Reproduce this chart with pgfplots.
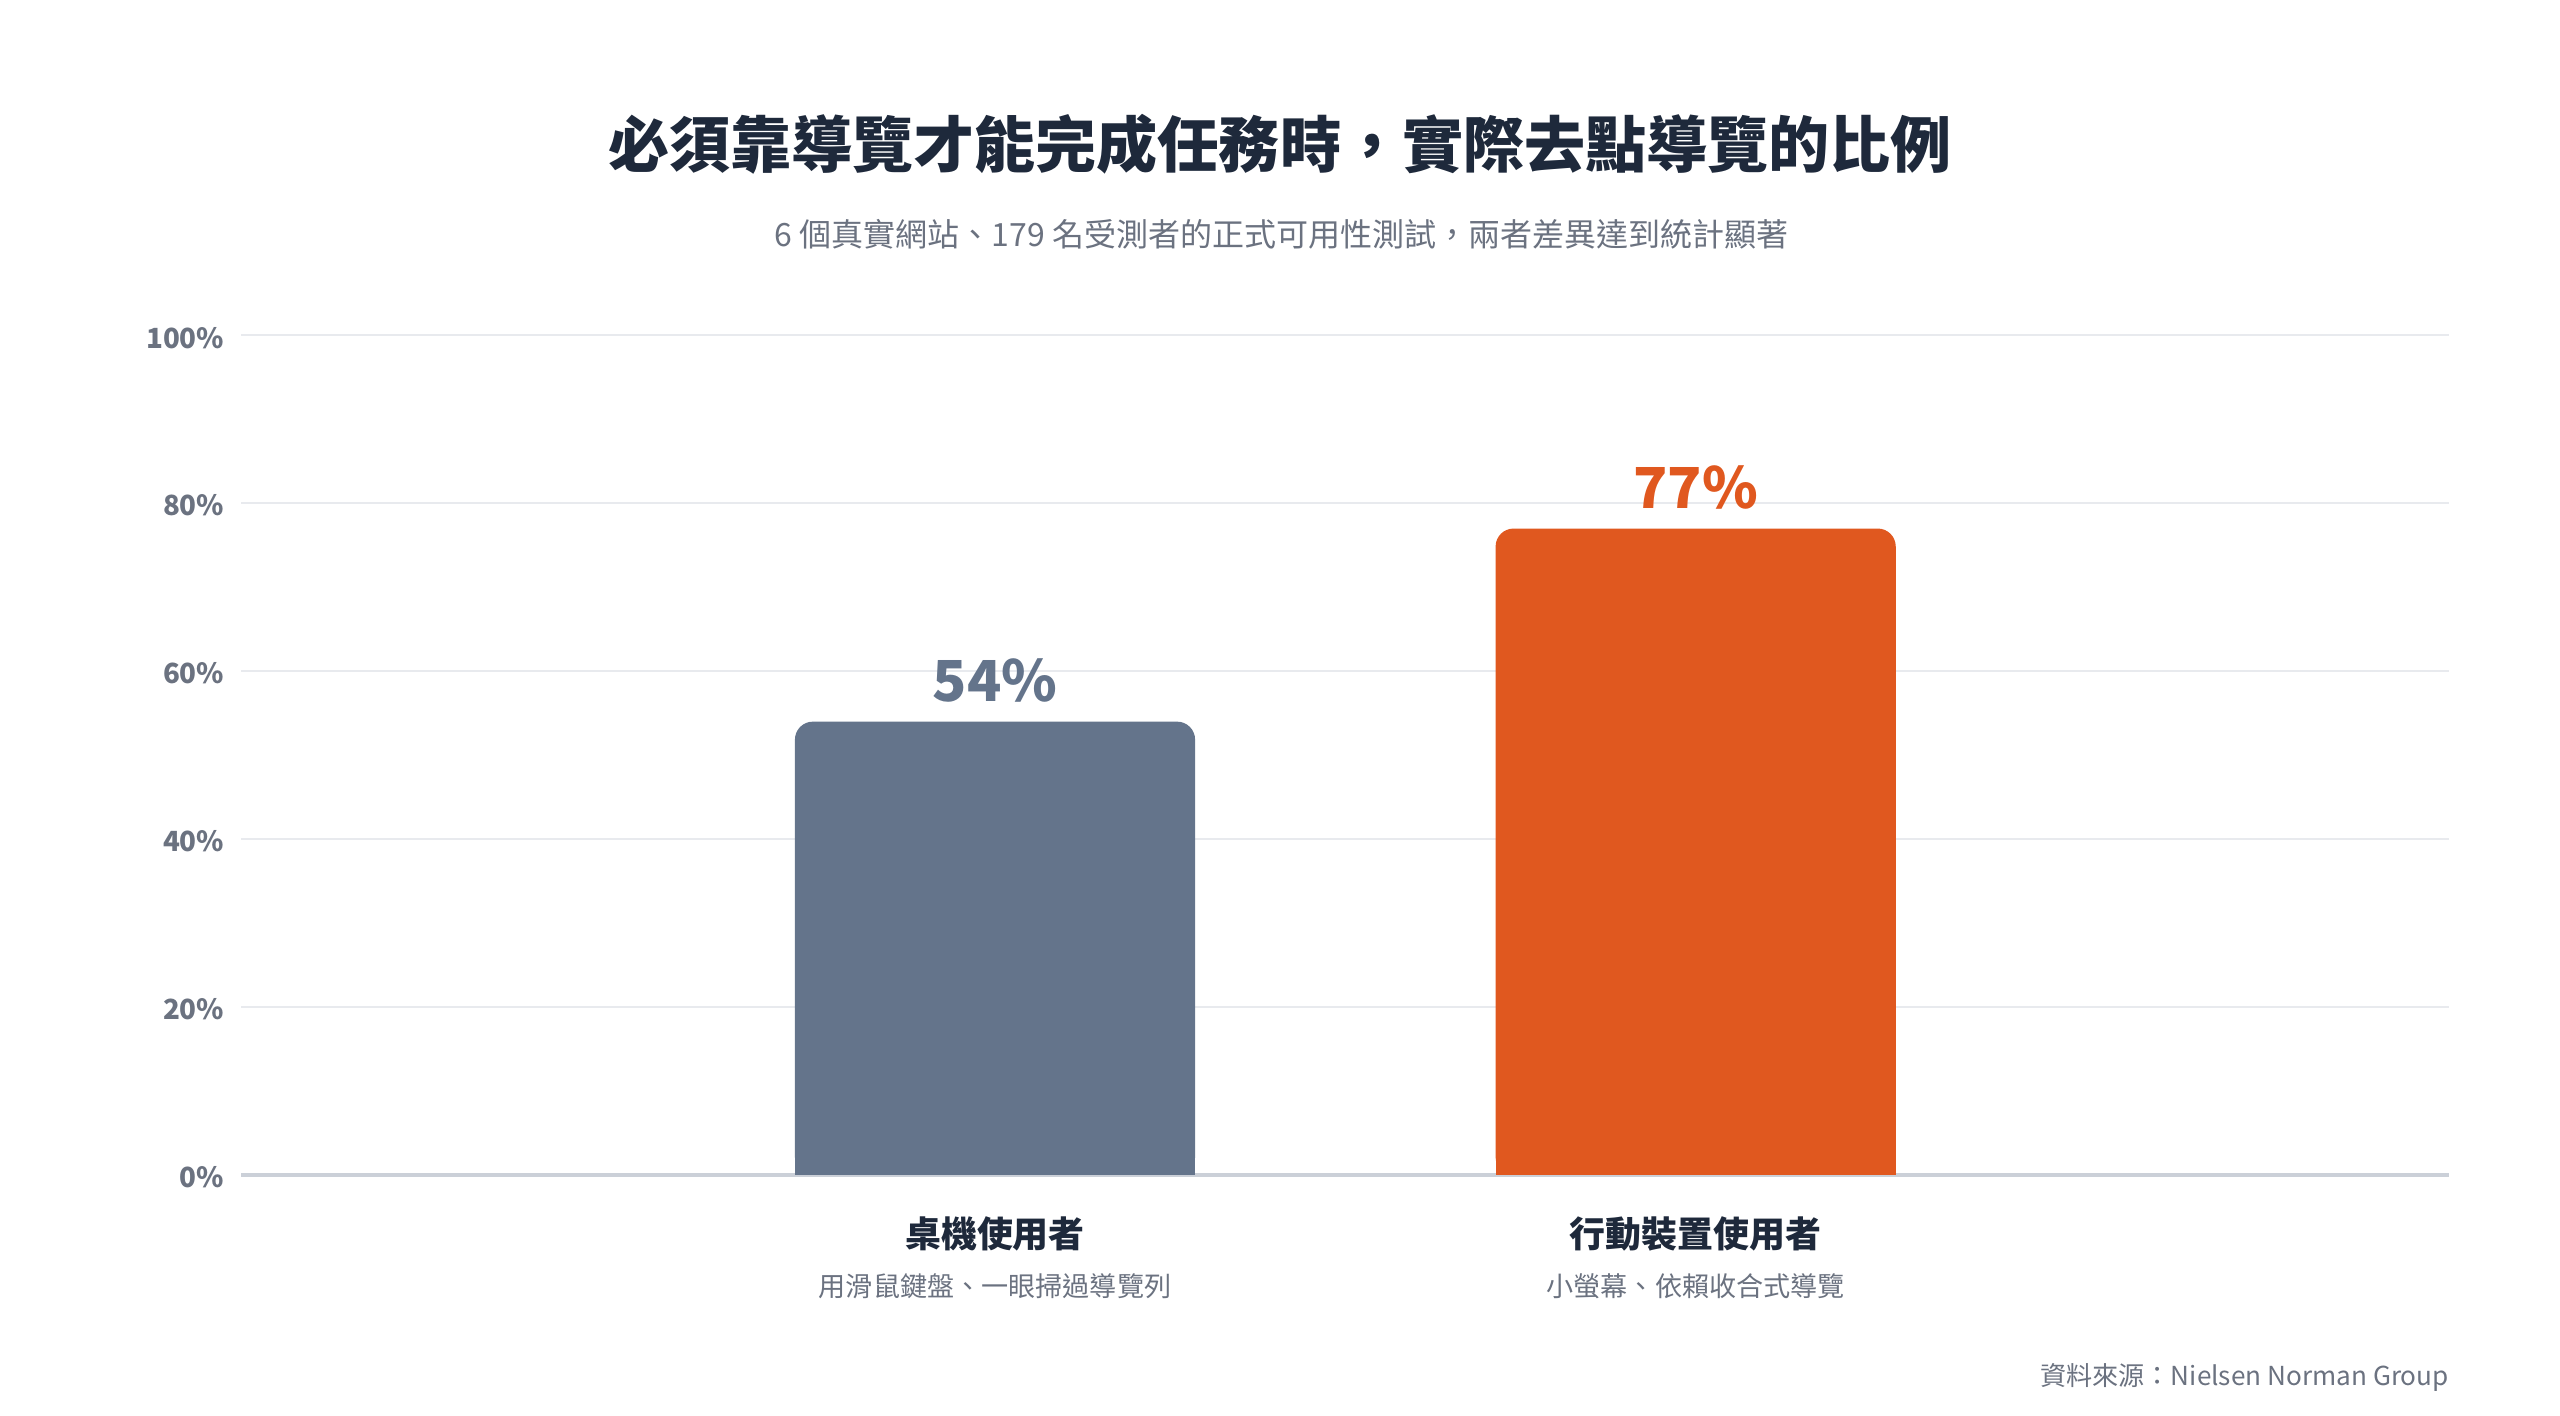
\documentclass[border=0pt]{standalone}
\usepackage{pgfplots}
\pgfplotsset{compat=1.18}
\usepackage{fontspec}
\setmainfont{Noto Sans CJK TC}

\definecolor{slatebar}{HTML}{64748B}
\definecolor{orangebar}{HTML}{E0581F}
\definecolor{titlec}{HTML}{1E293B}
\definecolor{subc}{HTML}{6B7280}
\definecolor{tickc}{HTML}{6B7280}
\definecolor{gridc}{HTML}{E8EAEE}
\definecolor{basec}{HTML}{CBD0D8}

\begin{document}
\begin{tikzpicture}[x=1pt,y=1pt]
\path[use as bounding box] (-73.85,-73.7) rectangle (709.85,359.7);
\begin{axis}[
    at={(0,0)}, anchor=south west,
    scale only axis,
    width=676pt, height=257pt,
    xmin=-1.0758, xmax=2.0758,
    ymin=0, ymax=100,
    axis line style={draw=none},
    major tick length=0pt,
    xtick={0,1},
    xticklabels={
        {\bfseries\fontsize{11}{14}\selectfont 桌機使用者\\[3pt]\color{subc}\fontsize{8.3}{10}\selectfont 用滑鼠鍵盤、一眼掃過導覽列},
        {\bfseries\fontsize{11}{14}\selectfont 行動裝置使用者\\[3pt]\color{subc}\fontsize{8.3}{10}\selectfont 小螢幕、依賴收合式導覽}
    },
    xticklabel style={align=center, text=titlec, inner sep=0pt, yshift=-12.5pt},
    ytick={0,20,40,60,80,100},
    yticklabel={\pgfmathprintnumber{\tick}\%},
    yticklabel style={font=\bfseries\fontsize{8.5}{10}\selectfont, text=tickc, inner sep=0pt, xshift=-5pt, yshift=-0.7pt},
    /pgf/number format/assume math mode=true,
    ymajorgrids=true,
    grid style={color=gridc, line width=0.6pt},
    extra y ticks={0},
    extra y tick labels={},
    extra y tick style={grid style={color=basec, line width=1pt}},
    ybar, bar width=122.5pt, bar shift=0pt,
    nodes near coords={\pgfmathprintnumber{\pgfplotspointmeta}\%},
    nodes near coords style={font=\bfseries\fontsize{17.3}{20}\selectfont, yshift=2.5pt, /pgf/number format/assume math mode=true},
]

% desktop
\addplot[fill=slatebar, draw=none, rounded corners=5.5pt,
    nodes near coords style={text=slatebar}]
    coordinates {(0,54)};
\addplot[fill=slatebar, draw=none, nodes near coords={}]
    coordinates {(0,4)};

% mobile
\addplot[fill=orangebar, draw=none, rounded corners=5.5pt,
    nodes near coords style={text=orangebar}]
    coordinates {(1,77)};
\addplot[fill=orangebar, draw=none, nodes near coords={}]
    coordinates {(1,4)};

\end{axis}

\node[font=\bfseries\fontsize{18.7}{22}\selectfont, text=titlec] at (318,315.5)
    {必須靠導覽才能完成任務時，實際去點導覽的比例};
\node[font=\fontsize{9.8}{12}\selectfont, text=subc] at (318.5,288)
    {6 個真實網站、179 名受測者的正式可用性測試，兩者差異達到統計顯著};
\node[font=\fontsize{8}{10}\selectfont, text=subc, anchor=east, inner sep=0pt] at (676,-62)
    {資料來源：Nielsen Norman Group};
\end{tikzpicture}
\end{document}
